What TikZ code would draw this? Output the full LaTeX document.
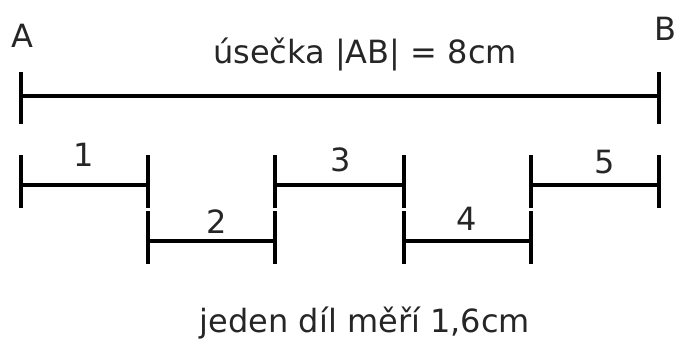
\documentclass[tikz,border=0pt]{standalone}
\usepackage{fontspec}
\setmainfont{DejaVu Sans}
\begin{document}
\begin{tikzpicture}[x=1pt,y=-1pt,
  seg/.style={line width=4pt, color=black},
  lbl/.style={inner sep=0pt, anchor=base, font=\fontsize{32}{36}\selectfont, text=black!85}]
\useasboundingbox (0,0) rectangle (677,340);
% main segment
\coordinate (A) at (21,96);
\coordinate (B) at (659,96);
\draw[seg] (A) -- (B);
\draw[seg] ([yshift=-28pt]A) -- ([yshift=24pt]A);
\draw[seg] ([yshift=-28pt]B) -- ([yshift=24pt]B);
\node[lbl] (lA) at (22,47) {A};
\node[lbl] (lB) at (665,40) {B};
\node[lbl] (title) at (365,63) {úsečka |AB| = 8cm};
% parts
\foreach \i/\xa/\xb/\yy in {1/21/148/185, 2/148/275/241, 3/275/404/185, 4/404/531/241, 5/531/659/185}{
  \coordinate (p\i a) at (\xa,\yy);
  \coordinate (p\i b) at (\xb,\yy);
  \draw[seg] (p\i a) -- (p\i b);
  \draw[seg] ([yshift=-23pt]p\i a) -- ([yshift=30pt]p\i a);
  \draw[seg] ([yshift=-23pt]p\i b) -- ([yshift=30pt]p\i b);
}
\node[lbl] (n1) at (84,166) {1};
\node[lbl] (n2) at (217,233) {2};
\node[lbl] (n3) at (341,171) {3};
\node[lbl] (n4) at (467,230) {4};
\node[lbl] (n5) at (605,173) {5};
\node[lbl] (foot) at (365,332) {jeden díl měří 1,6cm};
\end{tikzpicture}
\end{document}
